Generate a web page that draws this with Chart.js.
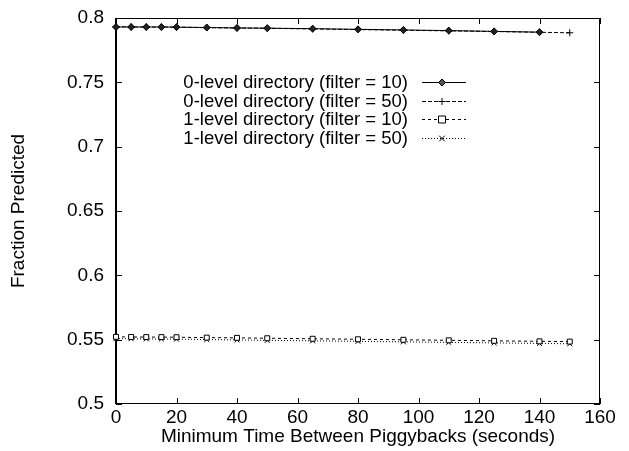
<!DOCTYPE html>
<html>
<head>
<meta charset="utf-8">
<script src="https://cdn.jsdelivr.net/npm/chart.js@4/dist/chart.umd.min.js"></script>
<style>
  html, body { margin: 0; padding: 0; background: #fff; }
  #wrap { width: 629px; height: 451px; }
</style>
</head>
<body>
<div id="wrap"><canvas id="c" width="629" height="451"></canvas></div>
<script>
// Minimum time between piggybacks (seconds)
const times = [0, 5, 10, 15, 20, 30, 40, 50, 65, 80, 95, 110, 125, 140, 150];

// Fraction predicted for each configuration
const zeroLevelFilter10 = [0.7930, 0.7930, 0.7930, 0.7930, 0.7929, 0.7926, 0.7923, 0.7921, 0.7917, 0.7912, 0.7907, 0.7902, 0.7896, 0.7890];
const zeroLevelFilter50 = [0.7932, 0.7931, 0.7930, 0.7930, 0.7929, 0.7925, 0.7922, 0.7920, 0.7915, 0.7910, 0.7905, 0.7900, 0.7895, 0.7889, 0.7885];
const oneLevelFilter10  = [0.5522, 0.5521, 0.5520, 0.5520, 0.5519, 0.5516, 0.5514, 0.5511, 0.5507, 0.5503, 0.5499, 0.5495, 0.5491, 0.5487, 0.5485];
const oneLevelFilter50  = [0.5508, 0.5507, 0.5506, 0.5505, 0.5504, 0.5501, 0.5498, 0.5495, 0.5491, 0.5487, 0.5483, 0.5479, 0.5475, 0.5471, 0.5468];

const seriesLabels = [
  '0-level directory (filter = 10)',
  '0-level directory (filter = 50)',
  '1-level directory (filter = 10)',
  '1-level directory (filter = 50)'
];

const xTicks = [0, 20, 40, 60, 80, 100, 120, 140, 160];
const yTicks = [0.5, 0.55, 0.6, 0.65, 0.7, 0.75, 0.8];

const FONT = '"Liberation Sans", Arial, Helvetica, sans-serif';

function pts(values) {
  return values.map((v, i) => ({ x: times[i], y: v }));
}

const styles = [
  { dash: [],     marker: 'diamond' },
  { dash: [4, 2], marker: 'plus' },
  { dash: [3, 3], marker: 'square' },
  { dash: [1, 2], marker: 'cross' }
];
const chartStyleFor = { diamond: 'rectRot', plus: 'cross', square: 'rect', cross: 'crossRot' };

const seriesValues = [zeroLevelFilter10, zeroLevelFilter50, oneLevelFilter10, oneLevelFilter50];

const datasets = seriesValues.map((vals, i) => ({
  label: seriesLabels[i],
  data: pts(vals),
  borderColor: '#000',
  borderWidth: 1,
  borderDash: styles[i].dash,
  pointStyle: chartStyleFor[styles[i].marker],
  pointRadius: 3.5,
  pointBorderWidth: 1,
  pointBorderColor: '#000',
  pointBackgroundColor: styles[i].marker === 'square' ? '#fff' : '#222',
  fill: false,
  tension: 0,
  clip: false
}));

function drawMarker(ctx, kind, x, y, r) {
  ctx.save();
  ctx.setLineDash([]);
  ctx.lineWidth = 1;
  ctx.strokeStyle = '#000';
  ctx.beginPath();
  if (kind === 'diamond') {
    ctx.moveTo(x, y - r); ctx.lineTo(x + r, y); ctx.lineTo(x, y + r); ctx.lineTo(x - r, y); ctx.closePath();
    ctx.fillStyle = '#555'; ctx.fill(); ctx.stroke();
  } else if (kind === 'plus') {
    ctx.moveTo(x - r, y); ctx.lineTo(x + r, y); ctx.moveTo(x, y - r); ctx.lineTo(x, y + r); ctx.stroke();
  } else if (kind === 'square') {
    ctx.rect(x - r, y - r, 2 * r, 2 * r); ctx.fillStyle = '#fff'; ctx.fill(); ctx.stroke();
  } else {
    const d = r * 0.8;
    ctx.moveTo(x - d, y - d); ctx.lineTo(x + d, y + d); ctx.moveTo(x + d, y - d); ctx.lineTo(x - d, y + d); ctx.stroke();
  }
  ctx.restore();
}

// Frame with inward tick marks on all four sides
const framePlugin = {
  id: 'frame',
  beforeDatasetsDraw(chart) {
    const { ctx, chartArea: a, scales: { x, y } } = chart;
    ctx.save();
    ctx.strokeStyle = '#000';
    ctx.lineWidth = 1;
    ctx.beginPath();
    ctx.moveTo(a.left, a.top + 0.5); ctx.lineTo(a.right, a.top + 0.5);
    ctx.moveTo(a.right - 0.5, a.top); ctx.lineTo(a.right - 0.5, a.bottom);
    ctx.moveTo(a.left, a.bottom - 0.5); ctx.lineTo(a.right, a.bottom - 0.5);
    const tl = 6;
    xTicks.forEach(v => {
      const px = Math.round(x.getPixelForValue(v)) + 0.5;
      ctx.moveTo(px, a.bottom); ctx.lineTo(px, a.bottom - tl);
      ctx.moveTo(px, a.top); ctx.lineTo(px, a.top + tl);
    });
    yTicks.forEach(v => {
      const py = Math.round(y.getPixelForValue(v)) + 0.5;
      ctx.moveTo(a.left, py); ctx.lineTo(a.left + tl, py);
      ctx.moveTo(a.right, py); ctx.lineTo(a.right - tl, py);
    });
    ctx.stroke();
    ctx.lineWidth = 2;
    ctx.beginPath();
    ctx.moveTo(a.left, a.top); ctx.lineTo(a.left, a.bottom);
    ctx.stroke();
    ctx.restore();
  }
};

// Key box: labels right-aligned, line sample with marker on the right
const keyPlugin = {
  id: 'key',
  afterDatasetsDraw(chart) {
    const { ctx } = chart;
    const textRight = 408, lineLeft = 422, lineRight = 466, markX = 442;
    const top = 82, step = 18.7;
    ctx.save();
    ctx.font = '18.5px ' + FONT;
    ctx.fillStyle = '#000';
    ctx.textAlign = 'right';
    ctx.textBaseline = 'middle';
    seriesLabels.forEach((lab, i) => {
      const yy = top + i * step;
      ctx.fillText(lab, textRight, yy + 1);
      ctx.save();
      ctx.strokeStyle = '#000';
      ctx.lineWidth = 1;
      ctx.setLineDash(styles[i].dash);
      ctx.beginPath();
      ctx.moveTo(lineLeft, Math.round(yy) + 0.5);
      ctx.lineTo(lineRight, Math.round(yy) + 0.5);
      ctx.stroke();
      ctx.restore();
      drawMarker(ctx, styles[i].marker, markX, Math.round(yy) + 0.5, 3.5);
    });
    ctx.restore();
  }
};

new Chart(document.getElementById('c'), {
  type: 'line',
  data: { datasets },
  plugins: [framePlugin, keyPlugin],
  options: {
    responsive: false,
    devicePixelRatio: 1,
    animation: false,
    layout: { padding: { left: 0, right: 29, top: 18, bottom: 0 } },
    plugins: { legend: { display: false }, tooltip: { enabled: false } },
    scales: {
      x: {
        type: 'linear',
        min: 0, max: 160,
        afterBuildTicks: s => { s.ticks = xTicks.map(v => ({ value: v })); },
        afterFit: s => { s.height = 47; s.paddingLeft = 0; s.paddingRight = 0; },
        grid: { display: false, drawTicks: false },
        border: { display: false },
        ticks: { color: '#000', padding: 2, maxRotation: 0, font: { family: FONT, size: 19 } },
        title: {
          display: true,
          text: 'Minimum Time Between Piggybacks (seconds)',
          color: '#000',
          font: { family: FONT, size: 19 },
          padding: { top: 0, bottom: 3 }
        }
      },
      y: {
        min: 0.5, max: 0.8,
        afterBuildTicks: s => { s.ticks = yTicks.map(v => ({ value: v })); },
        afterFit: s => { s.width = 116; s.paddingTop = 0; s.paddingBottom = 0; },
        grid: { display: false, drawTicks: false },
        border: { display: false },
        ticks: {
          color: '#000', padding: 12,
          font: { family: FONT, size: 19 },
          callback: v => String(+Number(v).toFixed(2))
        },
        title: {
          display: true,
          text: 'Fraction Predicted',
          color: '#000',
          font: { family: FONT, size: 19 },
          padding: { top: 7, bottom: 0 }
        }
      }
    }
  }
});
</script>
</body>
</html>
